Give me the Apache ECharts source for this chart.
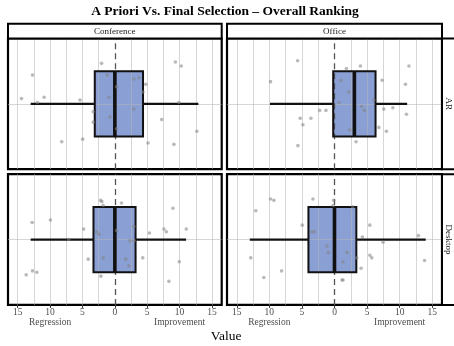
<!DOCTYPE html>
<html>
<head>
<meta charset="utf-8">
<script src="https://cdn.jsdelivr.net/npm/echarts@6/dist/echarts.min.js"></script>
<style>
  html, body { margin: 0; padding: 0; background: #fff; }
  #chart { width: 454px; height: 346px; }
</style>
</head>
<body>
<div id="chart"></div>
<script>
// Facet labels
const colNames = ['Conference', 'Office'];
const rowNames = ['AR', 'Desktop'];

// Axis ticks and the two direction labels
const tickValues = [-15, -10, -5, 0, 5, 10, 15];
const gridValues = [-15, -12.5, -10, -7.5, -5, -2.5, 2.5, 5, 7.5, 10, 12.5, 15];
const sideValues = [-10, 10];
const sideNames = ['Regression', 'Improvement'];

// Box summaries: [lower whisker, Q1, median, Q3, upper whisker]
const confArBox = [-13, -3.1, 0, 4.35, 12.9];
const officeArBox = [-9.9, -0.2, 3.05, 6.3, 11.15];
const confDeskBox = [-13, -3.3, 0, 3.2, 11];
const officeDeskBox = [-13, -4, 0, 3.35, 14];

// Individual observations: [value, vertical jitter within the panel (0..1)]
const confArPts = [
  [-2.05, 0.81], [-12.72, 0.72], [9.34, 0.82], [10.26, 0.79], [-1.18, 0.72],
  [3.74, 0.70], [2.92, 0.69], [4.77, 0.65], [0.26, 0.63], [4.35, 0.59],
  [-14.42, 0.54], [-11.95, 0.51], [-10.92, 0.55], [-5.38, 0.53], [9.89, 0.51],
  [2.92, 0.46], [-3.34, 0.44], [-0.77, 0.40], [-3.34, 0.36], [7.23, 0.38],
  [12.66, 0.29], [0.26, 0.31], [-4.97, 0.23], [-8.2, 0.21], [5.12, 0.20],
  [9.12, 0.19], [-0.92, 0.55]
];
const officeArPts = [
  [-5.66, 0.83], [3.97, 0.79], [11.42, 0.79], [1.82, 0.77], [-9.82, 0.67],
  [1.0, 0.68], [7.31, 0.68], [10.89, 0.65], [2.18, 0.59], [6.03, 0.53],
  [0.69, 0.51], [4.18, 0.48], [4.58, 0.45], [7.57, 0.46], [8.95, 0.47],
  [-2.28, 0.45], [-1.31, 0.45], [11.05, 0.42], [-5.26, 0.39], [-3.62, 0.39],
  [-4.85, 0.34], [6.8, 0.32], [7.97, 0.29], [2.34, 0.30], [3.31, 0.21],
  [-5.62, 0.18]
];
const confDeskPts = [
  [-2.2, 0.80], [-2.0, 0.79], [1.03, 0.78], [-1.8, 0.76], [8.97, 0.74],
  [-12.77, 0.63], [-9.95, 0.65], [-4.82, 0.58], [-2.82, 0.56], [-2.42, 0.54],
  [0.26, 0.57], [2.92, 0.60], [5.34, 0.55], [7.58, 0.58], [7.95, 0.56],
  [11.03, 0.58], [-7.12, 0.50], [2.31, 0.49], [2.97, 0.49], [-4.11, 0.35],
  [-1.8, 0.36], [1.69, 0.35], [4.31, 0.36], [9.95, 0.33], [2.15, 0.30],
  [-12.72, 0.26], [-12.05, 0.25], [-13.69, 0.23], [-2.15, 0.22], [8.35, 0.18]
];
const officeDeskPts = [
  [-9.82, 0.81], [-9.31, 0.80], [-3.31, 0.81], [-0.12, 0.80], [-0.23, 0.76],
  [2.8, 0.75], [-12.08, 0.72], [-4.95, 0.61], [5.42, 0.61], [-3.46, 0.56],
  [-3.11, 0.56], [4.28, 0.52], [12.89, 0.53], [7.46, 0.48], [-1.15, 0.45],
  [-0.95, 0.40], [1.92, 0.40], [5.42, 0.38], [5.72, 0.36], [3.42, 0.36],
  [-12.85, 0.36], [1.31, 0.33], [13.82, 0.34], [-8.12, 0.26], [4.08, 0.28],
  [-10.85, 0.21], [1.15, 0.19], [1.31, 0.19]
];

const SERIF = 'Liberation Serif';
const BOX_FILL = '#8a9fd4';
const INK = '#111';

// Panel layout (plot areas)
const colLeft = [8, 227];
const colWidth = [213.7, 215];
const rowTop = [38.5, 174.2];
const rowHeight = 130.7;

const panels = [
  { row: 0, col: 0, box: confArBox, pts: confArPts },
  { row: 0, col: 1, box: officeArBox, pts: officeArPts },
  { row: 1, col: 0, box: confDeskBox, pts: confDeskPts },
  { row: 1, col: 1, box: officeDeskBox, pts: officeDeskPts }
];

const grids = [], xAxes = [], yAxes = [], series = [];

panels.forEach((p, i) => {
  const bottom = p.row === 1;
  grids.push({
    left: colLeft[p.col], top: rowTop[p.row],
    width: colWidth[p.col], height: rowHeight,
    show: true, borderColor: '#000', borderWidth: 2.2,
    backgroundColor: 'transparent', containLabel: false
  });
  xAxes.push({
    gridIndex: i, type: 'value', min: -16.5, max: 16.5,
    axisLine: { show: false },
    splitLine: { show: false },
    axisTick: {
      show: bottom, length: 3, customValues: tickValues,
      lineStyle: { color: '#333', width: 1 }
    },
    axisLabel: {
      show: bottom, customValues: tickValues, margin: 3,
      formatter: v => String(Math.abs(v)),
      fontFamily: SERIF, fontSize: 9.5, color: '#4d4d4d'
    }
  });
  yAxes.push({
    gridIndex: i, type: 'value', min: 0, max: 1, show: false
  });
});

// Direction labels under the bottom panels
[2, 3].forEach(gi => {
  xAxes.push({
    gridIndex: gi, type: 'value', min: -16.5, max: 16.5, position: 'bottom', offset: 0,
    axisLine: { show: false }, axisTick: { show: false }, splitLine: { show: false },
    axisLabel: {
      customValues: sideValues, margin: 13,
      formatter: v => sideNames[sideValues.indexOf(v)],
      fontFamily: SERIF, fontSize: 9.5, color: '#4d4d4d'
    }
  });
});

function boxFill(params, api) {
  const a = api.coord([api.value(1), 0.75]);
  const b = api.coord([api.value(3), 0.25]);
  return {
    type: 'rect',
    shape: { x: a[0], y: a[1], width: b[0] - a[0], height: b[1] - a[1] },
    style: { fill: BOX_FILL }
  };
}

function boxStroke(params, api) {
  const lo = api.coord([api.value(0), 0.5]);
  const q1 = api.coord([api.value(1), 0.5]);
  const q3 = api.coord([api.value(3), 0.5]);
  const hi = api.coord([api.value(4), 0.5]);
  const tl = api.coord([api.value(1), 0.75]);
  const br = api.coord([api.value(3), 0.25]);
  const mt = api.coord([api.value(2), 0.75]);
  const mb = api.coord([api.value(2), 0.25]);
  const line = (p, q, w) => ({
    type: 'line',
    shape: { x1: p[0], y1: p[1], x2: q[0], y2: q[1] },
    style: { stroke: INK, lineWidth: w, lineCap: 'butt' }
  });
  return {
    type: 'group',
    children: [
      line(lo, q1, 2.2),
      line(q3, hi, 2.2),
      {
        type: 'rect',
        shape: { x: tl[0], y: tl[1], width: br[0] - tl[0], height: br[1] - tl[1] },
        style: { fill: 'none', stroke: INK, lineWidth: 2 }
      },
      line(mt, mb, 3.6)
    ]
  };
}

panels.forEach((p, i) => {
  series.push({
    type: 'custom', xAxisIndex: i, yAxisIndex: i, z: 1,
    renderItem: boxFill, data: [p.box], silent: true
  });
  // Panel grid lines and the dashed zero reference
  series.push({
    type: 'scatter', xAxisIndex: i, yAxisIndex: i, z: 2, data: [], silent: true,
    markLine: {
      z: 2, silent: true, symbol: 'none', animation: false, label: { show: false },
      lineStyle: { color: 'rgba(180,180,180,0.55)', width: 1, type: 'solid' },
      data: gridValues.map(v => ({ xAxis: v }))
        .concat([{ yAxis: 0.5 }])
        .concat([{ xAxis: 0, lineStyle: { color: '#555', width: 1.3, type: [6, 4] } }])
    }
  });
  series.push({
    type: 'custom', xAxisIndex: i, yAxisIndex: i, z: 3,
    renderItem: boxStroke, data: [p.box], silent: true
  });
  series.push({
    type: 'scatter', xAxisIndex: i, yAxisIndex: i, z: 4,
    symbolSize: 3.6, data: p.pts, silent: true,
    itemStyle: { color: 'rgba(130,130,130,0.7)' }
  });
});

// Facet strips, title and axis title
const graphic = [];
colNames.forEach((name, c) => {
  graphic.push({
    type: 'rect', z: 10,
    shape: { x: colLeft[c], y: 23.8, width: colWidth[c], height: rowTop[0] - 23.8 },
    style: { fill: '#fff', stroke: '#000', lineWidth: 2 }
  });
  graphic.push({
    type: 'text', z: 11,
    x: colLeft[c] + colWidth[c] / 2, y: 31.3,
    style: {
      text: name, fontFamily: SERIF, fontSize: 9, fill: '#1a1a1a',
      textAlign: 'center', textVerticalAlign: 'middle'
    }
  });
});
rowNames.forEach((name, r) => {
  graphic.push({
    type: 'rect', z: 10,
    shape: { x: 442, y: rowTop[r], width: 20, height: rowHeight },
    style: { fill: '#fff', stroke: '#000', lineWidth: 2 }
  });
  graphic.push({
    type: 'text', z: 11,
    x: 448.5, y: rowTop[r] + rowHeight / 2, rotation: -Math.PI / 2,
    style: {
      text: name, fontFamily: SERIF, fontSize: 9, fill: '#1a1a1a',
      textAlign: 'center', textVerticalAlign: 'middle'
    }
  });
});
graphic.push({
  type: 'text', x: 225, y: 11.5,
  style: {
    text: 'A Priori Vs. Final Selection \u2013 Overall Ranking',
    fontFamily: SERIF, fontSize: 13.5, fontWeight: 'bold', fill: '#000',
    textAlign: 'center', textVerticalAlign: 'middle'
  }
});
graphic.push({
  type: 'text', x: 226, y: 336.5,
  style: {
    text: 'Value', fontFamily: SERIF, fontSize: 13.5, fill: '#000',
    textAlign: 'center', textVerticalAlign: 'middle'
  }
});

const chart = echarts.init(document.getElementById('chart'), null, { renderer: 'canvas' });
chart.setOption({
  animation: false,
  backgroundColor: '#fff',
  grid: grids,
  xAxis: xAxes,
  yAxis: yAxes,
  series: series,
  graphic: graphic
});
</script>
</body>
</html>
